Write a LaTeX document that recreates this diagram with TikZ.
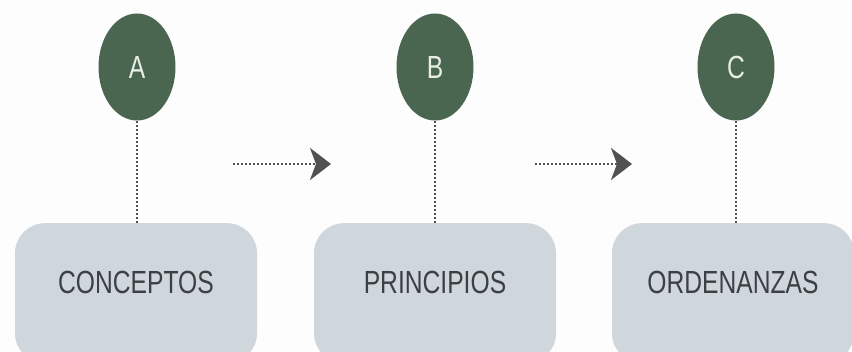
\documentclass[tikz,border=0pt]{standalone}
\usepackage{fontspec}
\setmainfont{Liberation Sans}[FakeStretch=0.77]
\usetikzlibrary{shapes.geometric,arrows.meta}
\definecolor{bgc}{HTML}{FDFDFD}
\definecolor{greenc}{HTML}{4B6650}
\definecolor{letterc}{HTML}{E6EEE6}
\definecolor{boxc}{HTML}{CFD6DC}
\definecolor{textc}{HTML}{3B4045}
\definecolor{dotc}{HTML}{4F5152}
\tikzset{
  oval/.style={ellipse, fill=greenc, minimum width=77pt, minimum height=107pt, inner sep=0pt,
    text=letterc, font=\fontsize{32}{32}\selectfont},
  panel/.style={rectangle, rounded corners=30pt, fill=boxc, minimum width=242pt, inner sep=0pt,
    text height=70pt, text depth=70pt, anchor=north, text=textc, font=\fontsize{32}{32}\selectfont},
  dotline/.style={draw=dotc, line width=2.6pt, dash pattern=on 2.4pt off 1.6pt},
  flow/.style={dotline, -{Stealth[length=21pt, width=32pt, inset=6pt, fill=dotc]}, shorten >=0pt}
}
\begin{document}
\begin{tikzpicture}[x=1pt, y=-1pt]
\useasboundingbox[fill=bgc] (0,0) rectangle (852,352);
\clip (0,0) rectangle (852,352);
\node[panel] (p1) at (136,223) {CONCEPTOS};
\node[panel] (p2) at (435,223) {PRINCIPIOS};
\node[panel] (p3) at (733,223) {ORDENANZAS};
\node[oval] (a) at (137,67) {A};
\node[oval] (b) at (435,67) {B};
\node[oval] (c) at (736,67) {C};
\draw[dotline] (a.south) -- (a.south |- p1.north);
\draw[dotline] (b.south) -- (b.south |- p2.north);
\draw[dotline] (c.south) -- (c.south |- p3.north);
\coordinate (s1) at (233,164);
\coordinate (e1) at (331,164);
\coordinate (s2) at (535,164);
\coordinate (e2) at (632,164);
\draw[flow] (s1) -- (e1);
\draw[flow] (s2) -- (e2);
\end{tikzpicture}
\end{document}
